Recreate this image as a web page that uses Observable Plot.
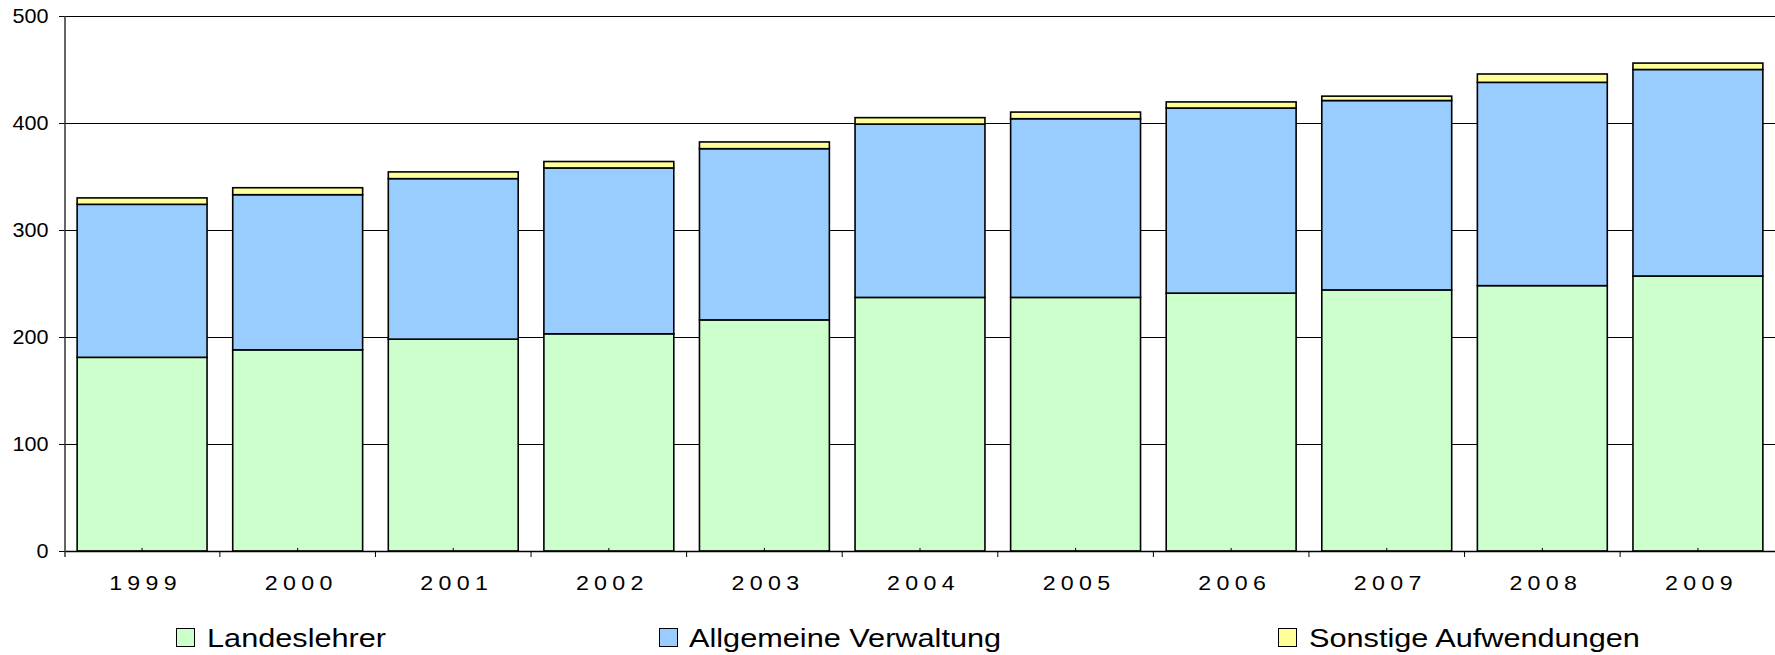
<!DOCTYPE html>
<html><head><meta charset="utf-8">
<script src="https://cdn.jsdelivr.net/npm/d3@7"></script>
<script src="https://cdn.jsdelivr.net/npm/@observablehq/plot@0.6"></script>
<style>
html,body{margin:0;padding:0;background:#fff;overflow:hidden}
#wrap{position:relative;width:1775px;height:655px;font-family:"Liberation Sans",Arial,sans-serif}
#wrap svg{display:block}
.sw{position:absolute;width:19px;height:19px;box-sizing:border-box;border:1.5px solid #000;top:628px}
.lt{position:absolute;top:625px;font-size:26px;line-height:26px;white-space:nowrap;transform-origin:0 50%;transform:scaleX(1.18);color:#000}
</style></head><body><div id="wrap"></div>
<script>
const years = ["1999","2000","2001","2002","2003","2004","2005","2006","2007","2008","2009"];
const landeslehrer = [181,188,198,203,216,237,237,241,244,248,257];
const allgemeineVerwaltung = [143,145,150,155,160,162,167,173,177,190,193];
const sonstigeAufwendungen = [6,6.5,6.3,6,6.3,6,6.2,5.7,4.1,7.8,6];
const seriesNames = ["Landeslehrer","Allgemeine Verwaltung","Sonstige Aufwendungen"];
const seriesColors = ["#CCFFCC","#99CCFF","#FFFF99"];
const yTicks = [0,100,200,300,400,500];

const seriesValues = [landeslehrer, allgemeineVerwaltung, sonstigeAufwendungen];
const rows = [];
seriesNames.forEach((s, si) => years.forEach((yr, i) => rows.push({year: yr, series: s, value: seriesValues[si][i]})));

const W = 1775, H = 600;
const plot = Plot.plot({
  width: W, height: H,
  marginLeft: 65, marginRight: 0, marginTop: 16, marginBottom: 49,
  style: {fontFamily: '"Liberation Sans", Arial, sans-serif', fontSize: "20px", color: "#000", background: "#fff", overflow: "visible"},
  x: {domain: years, paddingInner: 0.165, paddingOuter: 0.078, round: false, axis: null},
  y: {domain: [0, 500], ticks: yTicks, tickSize: 6, tickPadding: 11, label: null, tickFormat: () => ""},
  color: {domain: seriesNames, range: seriesColors},
  marks: [
    Plot.ruleY(yTicks.filter(v => v > 0), {stroke: "#000", strokeWidth: 1}),
    Plot.barY(rows, {x: "year", y: "value", fill: "series", stroke: "#000", strokeWidth: 1.6}),
    Plot.ruleY([0], {stroke: "#000", strokeWidth: 1.5}),
    Plot.text(yTicks, {y: d => d, text: d => String(d), frameAnchor: "left", textAnchor: "end", lineAnchor: "middle", dx: -17, fontSize: 20}),
    Plot.text(years, {x: d => d, frameAnchor: "bottom", lineAnchor: "middle", dy: 32, dx: 3, fontSize: 20})
  ]
});

// horizontal stretch of texts, letter spacing of year labels
d3.select(plot).selectAll("text").each(function() {
  let s = 1.08;
  if (years.includes(this.textContent)) {
    this.setAttribute("letter-spacing", "4.6");
    this.style.letterSpacing = "4.6px";
    s = 1.16;
  }
  const x = +this.getAttribute("x") || 0, y = +this.getAttribute("y") || 0;
  const t = this.getAttribute("transform") || "";
  this.setAttribute("transform", `${t} translate(${x},${y}) scale(${s},1) translate(${-x},${-y})`);
});

// axis line and category ticks through the plot's scales
const xs = plot.scale("x"), ys = plot.scale("y");
const y0 = ys.apply(0), yTop = ys.apply(500);
const g = d3.select(plot).append("g").attr("stroke", "#000").attr("fill", "none");
g.append("line").attr("x1", xs.range[0]).attr("x2", xs.range[0]).attr("y1", yTop).attr("y2", y0 + 6).attr("stroke", "#333").attr("stroke-width", 1.5);
years.forEach(yr => {
  const cx = xs.apply(yr) + xs.bandwidth / 2;
  g.append("line").attr("x1", cx + xs.step / 2).attr("x2", cx + xs.step / 2).attr("y1", y0).attr("y2", y0 + 6).attr("stroke-width", 1);
  g.append("line").attr("x1", cx).attr("x2", cx).attr("y1", y0).attr("y2", y0 - 3).attr("stroke-width", 1);
});

const wrap = document.getElementById("wrap");
wrap.appendChild(plot);

// legend
const legPos = [{sw: 176, tx: 207}, {sw: 659, tx: 689}, {sw: 1278, tx: 1309}];
seriesNames.forEach((s, i) => {
  const sw = document.createElement("div");
  sw.className = "sw"; sw.style.left = legPos[i].sw + "px"; sw.style.background = seriesColors[i];
  const t = document.createElement("div");
  t.className = "lt"; t.style.left = legPos[i].tx + "px"; t.textContent = s;
  wrap.appendChild(sw); wrap.appendChild(t);
});
</script></body></html>
